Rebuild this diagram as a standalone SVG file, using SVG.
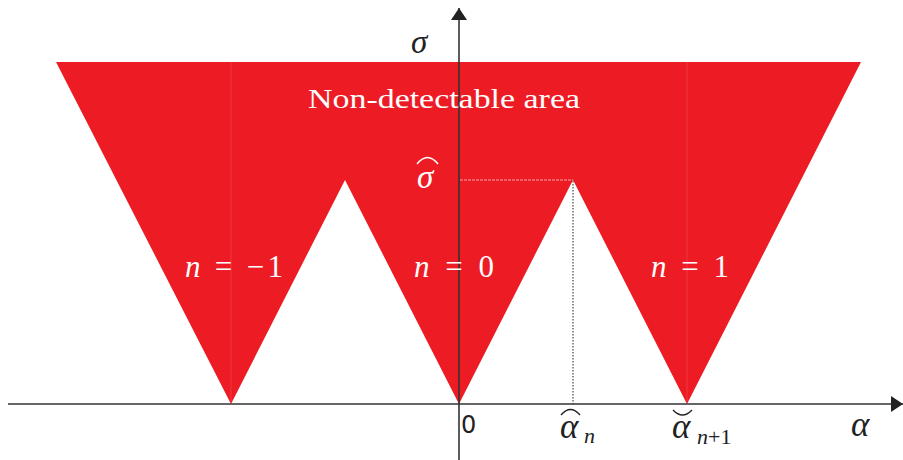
<svg xmlns="http://www.w3.org/2000/svg" width="903" height="460" viewBox="0 0 903 460">
<style>
.region{fill:#ed1c24;}
.seam{stroke:#f04a50;stroke-width:1;opacity:0.6;}
.axis{stroke:#333;stroke-width:1.6;fill:none;}
.math{font-family:"Liberation Serif","DejaVu Serif",serif;font-style:italic;}
.rm{font-family:"Liberation Serif","DejaVu Serif",serif;}
.w{fill:#fff;}
.k{fill:#222;}
</style>
<defs>
<marker id="arr" viewBox="0 0 12 16" refX="12" refY="8" markerWidth="12" markerHeight="16" markerUnits="userSpaceOnUse" orient="auto">
<path d="M0,0 L12,8 L0,16 Z" fill="#222"/>
</marker>
</defs>
<g id="region">
<polygon class="region" points="56,62 861,62 687,404 573,180 459,404 345,180 231,404"/>
<line class="seam" x1="231" y1="62" x2="231" y2="402"/>
<line class="seam" x1="687" y1="62" x2="687" y2="402"/>
</g>
<g id="connectors">
<line class="axis" x1="8" y1="404" x2="903" y2="404" marker-end="url(#arr)"/>
<line class="axis" x1="459" y1="460" x2="459" y2="8" marker-end="url(#arr)"/>
<line x1="460" y1="180" x2="573" y2="180" stroke="#f7a0a3" stroke-width="1" stroke-dasharray="3,1"/>
<line x1="573" y1="181" x2="573" y2="404" stroke="#222" stroke-width="1" stroke-dasharray="1.5,1.5"/>
</g>
<g id="labels">
<text class="rm w" x="308" y="108" font-size="27" textLength="272" lengthAdjust="spacingAndGlyphs">Non-detectable area</text>
<text class="math k" x="411" y="53" font-size="33">σ</text>
<g id="sigmahat">
<text class="math w" x="417" y="188" font-size="33">σ</text>
<path d="M417,164 Q427.5,151 438,164" fill="none" stroke="#fff" stroke-width="1.4"/>
</g>
<text class="w" x="185" y="277" font-size="31" textLength="98" lengthAdjust="spacing"><tspan class="math">n</tspan><tspan class="rm"> = −1</tspan></text>
<text class="w" x="414" y="277" font-size="31" textLength="80" lengthAdjust="spacing"><tspan class="math">n</tspan><tspan class="rm"> = 0</tspan></text>
<text class="w" x="651" y="277" font-size="31" textLength="78" lengthAdjust="spacing"><tspan class="math">n</tspan><tspan class="rm"> = 1</tspan></text>
<text x="461" y="433" font-size="24" font-family="'DejaVu Sans', sans-serif" fill="#222">0</text>
<g id="alphahat">
<text class="math k" x="560" y="438" font-size="35">α</text>
<text class="math k" x="584" y="443" font-size="22">n</text>
<path d="M561,415 Q570.5,404 580,415" fill="none" stroke="#222" stroke-width="1.3"/>
</g>
<g id="alphabreve">
<text class="math k" x="672" y="438" font-size="35">α</text>
<text class="k" x="697" y="444" font-size="22"><tspan class="math">n</tspan><tspan class="rm">+1</tspan></text>
<path d="M673,410 Q682.5,420 692,410" fill="none" stroke="#222" stroke-width="1.3"/>
</g>
<text class="math k" x="851" y="436" font-size="35">α</text>
</g>
</svg>
